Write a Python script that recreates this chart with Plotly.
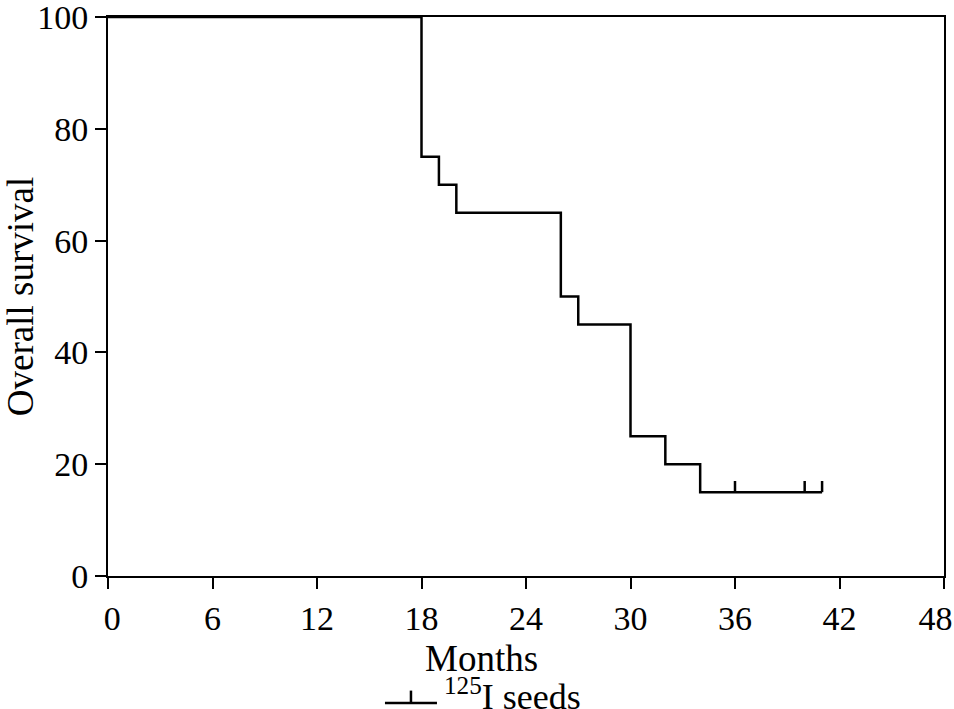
import plotly.graph_objects as go

# Data (Kaplan-Meier step curve)
times = [0, 18, 19, 20, 26, 27, 30, 32, 34, 41]
survival = [100, 75, 70, 65, 50, 45, 25, 20, 15, 15]
censor_times = [36, 40, 41]
x_ticks = [0, 6, 12, 18, 24, 30, 36, 42, 48]
x_ticktext = ["\u00a00", "6", "12", "18", "24", "30", "36", "42", "48\u00a0\u00a0"]
y_ticks = [0, 20, 40, 60, 80, 100]
x_title = "Months"
y_title = "Overall survival"
series_name = "<sup>125</sup>I seeds"

FONT = "Liberation Serif"
FS_TICK = 34
FS_TITLE = 37
CENSOR_H = 2.0


def surv_at(t):
    s = survival[0]
    for ti, si in zip(times, survival):
        if ti <= t:
            s = si
    return s


fig = go.Figure()
fig.add_trace(go.Scatter(
    x=times, y=survival, mode="lines", line=dict(color="black", width=2.5, shape="hv"),
    showlegend=False, hoverinfo="skip"))

cx, cy = [], []
for t in censor_times:
    s = surv_at(t)
    cx += [t, t, None]
    cy += [s, s + CENSOR_H, None]
fig.add_trace(go.Scatter(x=cx, y=cy, mode="lines", line=dict(color="black", width=2.5),
                         showlegend=False, hoverinfo="skip"))

axis_common = dict(showline=True, linecolor="black", linewidth=2, mirror=True,
                   ticks="outside", ticklen=11, tickwidth=2, tickcolor="black",
                   showgrid=False, zeroline=False, automargin=False,
                   ticklabeloverflow="allow",
                   tickfont=dict(family=FONT, size=FS_TICK, color="black"))

fig.update_xaxes(range=[0, 48], tickvals=x_ticks, ticktext=x_ticktext, **axis_common)
fig.update_yaxes(range=[0, 100], tickvals=y_ticks, ticktext=[str(v) for v in y_ticks],
                 title=dict(text=y_title, font=dict(family=FONT, size=FS_TITLE, color="black"), standoff=25),
                 **axis_common)

# X-axis title (offset left of the plot centre, as in the original)
fig.add_annotation(text=x_title, xref="paper", yref="paper", x=0.447, y=-0.1467,
                   xanchor="center", yanchor="middle", showarrow=False,
                   font=dict(family=FONT, size=FS_TITLE, color="black"))

# Legend drawn in paper coordinates
fig.add_shape(type="line", xref="paper", yref="paper", x0=0.3313, x1=0.3935, y0=-0.2272, y1=-0.2272,
              line=dict(color="black", width=2.5))
fig.add_shape(type="line", xref="paper", yref="paper", x0=0.3624, x1=0.3624, y0=-0.2272, y1=-0.205,
              line=dict(color="black", width=2.5))
fig.add_annotation(text=series_name, xref="paper", yref="paper", x=0.4, y=-0.212,
                   xanchor="left", yanchor="middle", showarrow=False,
                   font=dict(family=FONT, size=FS_TITLE - 1, color="black"))

fig.update_layout(width=954, height=709, margin=dict(l=108, r=10, t=17, b=133),
                  plot_bgcolor="white", paper_bgcolor="white")

fig.write_html("out.html", config={"displayModeBar": False},
               post_script="document.body.style.margin='0';document.body.style.overflow='hidden';")
